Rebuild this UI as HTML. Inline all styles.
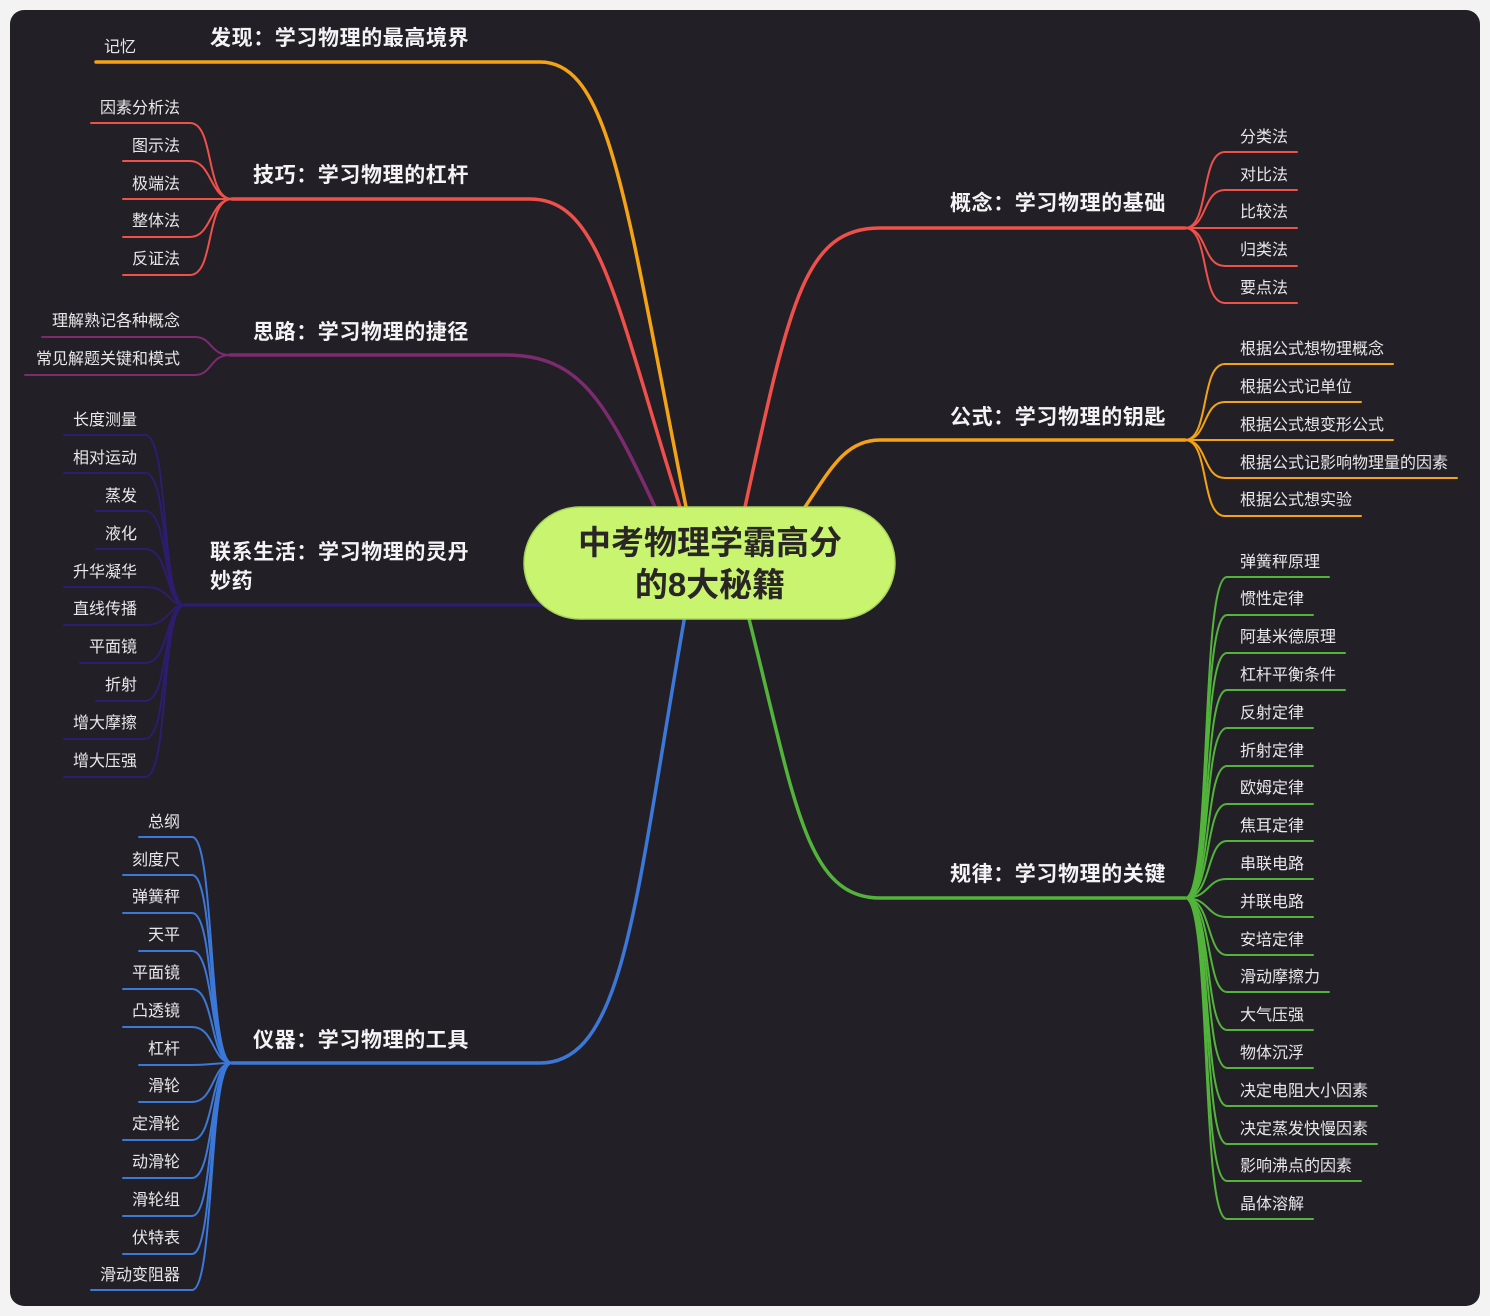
<!DOCTYPE html>
<html><head><meta charset="utf-8"><style>
html,body{margin:0;padding:0;background:#f4f4f4;}
svg{display:block;font-family:"Liberation Sans","Noto Sans CJK SC",sans-serif;}
.l{fill:#e8e8e8;font-size:16px;}
.b{fill:#f4f4f4;font-size:21px;font-weight:bold;letter-spacing:0.6px;}
</style></head><body>
<svg width="1490" height="1316" viewBox="0 0 1490 1316" xmlns="http://www.w3.org/2000/svg">
<rect x="0" y="0" width="1490" height="1316" fill="#f3f3f3"/>
<rect x="10" y="10" width="1470" height="1296" rx="14" fill="#231f27"/>
<g fill="none" stroke-linecap="round">
<path d="M96,62 L540,62 C610,62 625,200 686,507" stroke="#f5a316" stroke-width="3.5"/>
<path d="M232,199 L530,199 C600,199 615,300 680,507" stroke="#f0504a" stroke-width="3.5"/>
<path d="M230,355 L505,355 C580,355 605,400 655,507" stroke="#7d2b6f" stroke-width="3.5"/>
<path d="M185,605 L545,605" stroke="#2d1d6e" stroke-width="3.5"/>
<path d="M232,1063 L540,1063 C625,1063 635,900 685,615" stroke="#3b78d8" stroke-width="3.5"/>
<path d="M1185,228 L880,228 C805,228 790,300 745,507" stroke="#f0504a" stroke-width="3.5"/>
<path d="M1185,440 L880,440 C845,440 830,470 805,507" stroke="#f5a316" stroke-width="3.5"/>
<path d="M1185,898 L880,898 C805,898 795,800 748,615" stroke="#52b43a" stroke-width="3.5"/>
<g stroke="#f0504a" stroke-width="2">
<path d="M91,123 L190,123 C215,123 205,199 232,199"/>
<path d="M123,161 L190,161 C212,161 210,199 232,199"/>
<path d="M123,199 L232,199"/>
<path d="M123,237 L190,237 C212,237 210,199 232,199"/>
<path d="M123,275 L190,275 C215,275 205,199 232,199"/>
</g>
<g stroke="#7d2b6f" stroke-width="2">
<path d="M42,337 L195,337 C212,337 210,355 230,355"/>
<path d="M25,375 L195,375 C212,375 210,355 230,355"/>
</g>
<g stroke="#2d1d6e" stroke-width="2">
<path d="M64,435 L145,435 C170,435 160,605 185,605"/>
<path d="M64,473 L145,473 C170,473 160,605 185,605"/>
<path d="M96,511 L145,511 C170,511 162,605 185,605"/>
<path d="M96,549 L145,549 C170,549 165,605 185,605"/>
<path d="M64,587 L145,587 C170,587 168,605 185,605"/>
<path d="M64,625 L145,625 C170,625 168,605 185,605"/>
<path d="M80,663 L145,663 C170,663 165,605 185,605"/>
<path d="M96,701 L145,701 C170,701 162,605 185,605"/>
<path d="M64,739 L145,739 C170,739 160,605 185,605"/>
<path d="M64,777 L145,777 C170,777 160,605 185,605"/>
</g>
<g stroke="#3b78d8" stroke-width="2">
<path d="M139,837 L192,837 C215,837 208,1063 232,1063"/>
<path d="M123,875 L192,875 C215,875 208,1063 232,1063"/>
<path d="M123,913 L192,913 C215,913 208,1063 232,1063"/>
<path d="M139,951 L192,951 C215,951 210,1063 232,1063"/>
<path d="M123,989 L192,989 C215,989 210,1063 232,1063"/>
<path d="M123,1027 L192,1027 C215,1027 212,1063 232,1063"/>
<path d="M139,1065 L192,1065 C212,1065 212,1063 232,1063"/>
<path d="M139,1102 L192,1102 C215,1102 212,1063 232,1063"/>
<path d="M123,1140 L192,1140 C215,1140 210,1063 232,1063"/>
<path d="M123,1178 L192,1178 C215,1178 210,1063 232,1063"/>
<path d="M123,1216 L192,1216 C215,1216 208,1063 232,1063"/>
<path d="M123,1254 L192,1254 C215,1254 208,1063 232,1063"/>
<path d="M91,1290 L192,1290 C215,1290 208,1063 232,1063"/>
</g>
<g stroke="#f0504a" stroke-width="2">
<path d="M1185,228 C1210,228 1200,152 1225,152 L1297,152"/>
<path d="M1185,228 C1208,228 1202,190 1225,190 L1297,190"/>
<path d="M1185,228 L1297,228"/>
<path d="M1185,228 C1208,228 1202,266 1225,266 L1297,266"/>
<path d="M1185,228 C1210,228 1200,303 1225,303 L1297,303"/>
</g>
<g stroke="#f5a316" stroke-width="2">
<path d="M1185,440 C1210,440 1200,364 1225,364 L1393,364"/>
<path d="M1185,440 C1208,440 1202,402 1225,402 L1361,402"/>
<path d="M1185,440 L1393,440"/>
<path d="M1185,440 C1208,440 1202,478 1225,478 L1457,478"/>
<path d="M1185,440 C1210,440 1200,516 1225,516 L1361,516"/>
</g>
<g stroke="#52b43a" stroke-width="2">
<path d="M1185,898 C1212,898 1200,577 1227,577 L1329,577"/>
<path d="M1185,898 C1212,898 1200,615 1227,615 L1313,615"/>
<path d="M1185,898 C1212,898 1200,653 1227,653 L1345,653"/>
<path d="M1185,898 C1212,898 1202,690 1227,690 L1345,690"/>
<path d="M1185,898 C1212,898 1202,728 1227,728 L1313,728"/>
<path d="M1185,898 C1212,898 1204,766 1227,766 L1313,766"/>
<path d="M1185,898 C1212,898 1204,804 1227,804 L1313,804"/>
<path d="M1185,898 C1212,898 1206,841 1227,841 L1313,841"/>
<path d="M1185,898 C1210,898 1206,879 1227,879 L1313,879"/>
<path d="M1185,898 C1210,898 1206,917 1227,917 L1313,917"/>
<path d="M1185,898 C1212,898 1206,955 1227,955 L1313,955"/>
<path d="M1185,898 C1212,898 1206,992 1227,992 L1329,992"/>
<path d="M1185,898 C1212,898 1204,1030 1227,1030 L1313,1030"/>
<path d="M1185,898 C1212,898 1204,1068 1227,1068 L1313,1068"/>
<path d="M1185,898 C1212,898 1202,1106 1227,1106 L1377,1106"/>
<path d="M1185,898 C1212,898 1202,1144 1227,1144 L1377,1144"/>
<path d="M1185,898 C1212,898 1200,1181 1227,1181 L1361,1181"/>
<path d="M1185,898 C1212,898 1200,1219 1227,1219 L1313,1219"/>
</g>
</g>
<rect x="524" y="507" width="371" height="112" rx="56" fill="#c9f470" stroke="#a9d45a" stroke-width="1.5"/>
<text x="710" y="554" text-anchor="middle" font-size="33" font-weight="bold" fill="#2b2626">中考物理学霸高分</text>
<text x="710" y="596" text-anchor="middle" font-size="33" font-weight="bold" fill="#2b2626">的8大秘籍</text>
<text class="b" x="210" y="45">发现：学习物理的最高境界</text>
<text class="b" x="253" y="182">技巧：学习物理的杠杆</text>
<text class="b" x="253" y="339">思路：学习物理的捷径</text>
<text class="b" x="210" y="559">联系生活：学习物理的灵丹</text>
<text class="b" x="210" y="588">妙药</text>
<text class="b" x="253" y="1047">仪器：学习物理的工具</text>
<text class="b" x="950" y="210">概念：学习物理的基础</text>
<text class="b" x="950" y="424">公式：学习物理的钥匙</text>
<text class="b" x="950" y="881">规律：学习物理的关键</text>
<g class="l" text-anchor="end">
<text x="136" y="52">记忆</text>
<text x="180" y="113">因素分析法</text>
<text x="180" y="151">图示法</text>
<text x="180" y="189">极端法</text>
<text x="180" y="226">整体法</text>
<text x="180" y="264">反证法</text>
<text x="180" y="326">理解熟记各种概念</text>
<text x="180" y="364">常见解题关键和模式</text>
<text x="137" y="425">长度测量</text>
<text x="137" y="463">相对运动</text>
<text x="137" y="501">蒸发</text>
<text x="137" y="539">液化</text>
<text x="137" y="577">升华凝华</text>
<text x="137" y="614">直线传播</text>
<text x="137" y="652">平面镜</text>
<text x="137" y="690">折射</text>
<text x="137" y="728">增大摩擦</text>
<text x="137" y="766">增大压强</text>
<text x="180" y="827">总纲</text>
<text x="180" y="865">刻度尺</text>
<text x="180" y="902">弹簧秤</text>
<text x="180" y="940">天平</text>
<text x="180" y="978">平面镜</text>
<text x="180" y="1016">凸透镜</text>
<text x="180" y="1054">杠杆</text>
<text x="180" y="1091">滑轮</text>
<text x="180" y="1129">定滑轮</text>
<text x="180" y="1167">动滑轮</text>
<text x="180" y="1205">滑轮组</text>
<text x="180" y="1243">伏特表</text>
<text x="180" y="1280">滑动变阻器</text>
</g>
<g class="l">
<text x="1240" y="142">分类法</text>
<text x="1240" y="180">对比法</text>
<text x="1240" y="217">比较法</text>
<text x="1240" y="255">归类法</text>
<text x="1240" y="293">要点法</text>
<text x="1240" y="354">根据公式想物理概念</text>
<text x="1240" y="392">根据公式记单位</text>
<text x="1240" y="430">根据公式想变形公式</text>
<text x="1240" y="468">根据公式记影响物理量的因素</text>
<text x="1240" y="505">根据公式想实验</text>
<text x="1240" y="567">弹簧秤原理</text>
<text x="1240" y="604">惯性定律</text>
<text x="1240" y="642">阿基米德原理</text>
<text x="1240" y="680">杠杆平衡条件</text>
<text x="1240" y="718">反射定律</text>
<text x="1240" y="756">折射定律</text>
<text x="1240" y="793">欧姆定律</text>
<text x="1240" y="831">焦耳定律</text>
<text x="1240" y="869">串联电路</text>
<text x="1240" y="907">并联电路</text>
<text x="1240" y="945">安培定律</text>
<text x="1240" y="982">滑动摩擦力</text>
<text x="1240" y="1020">大气压强</text>
<text x="1240" y="1058">物体沉浮</text>
<text x="1240" y="1096">决定电阻大小因素</text>
<text x="1240" y="1134">决定蒸发快慢因素</text>
<text x="1240" y="1171">影响沸点的因素</text>
<text x="1240" y="1209">晶体溶解</text>
</g>
</svg>
</body></html>
